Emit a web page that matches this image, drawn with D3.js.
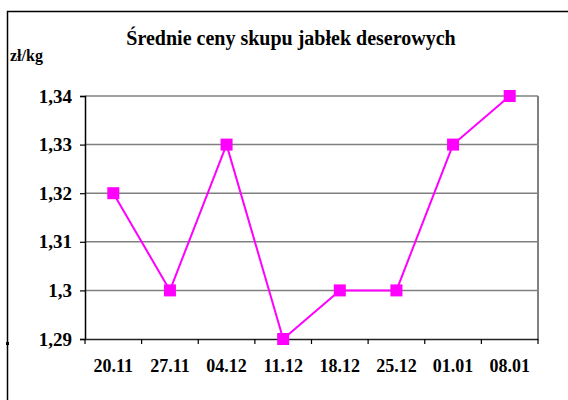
<!DOCTYPE html>
<html>
<head>
<meta charset="utf-8">
<script src="https://cdn.jsdelivr.net/npm/d3@7"></script>
<style>
  body { margin: 0; background: #fff; }
  text { font-family: "Liberation Serif", "Times New Roman", serif; font-weight: bold; fill: #000; }
</style>
</head>
<body>
<div id="chart"></div>
<script>
// data
const dates = ["20.11", "27.11", "04.12", "11.12", "18.12", "25.12", "01.01", "08.01"];
const prices = [1.32, 1.30, 1.33, 1.29, 1.30, 1.30, 1.33, 1.34];
const yTicks = [1.29, 1.30, 1.31, 1.32, 1.33, 1.34];

const width = 568;
const height = 400;
const plot = { left: 85, right: 538, top: 96, bottom: 339 };

const svg = d3.select("#chart")
  .append("svg")
  .attr("width", width)
  .attr("height", height);

// outer frame (runs off the right/bottom edge)
svg.append("rect")
  .attr("x", 7.5)
  .attr("y", 11.5)
  .attr("width", 600)
  .attr("height", 450)
  .attr("fill", "none")
  .attr("stroke", "#000")
  .attr("stroke-width", 1.5);

// little notch on the frame near the x axis
svg.append("rect")
  .attr("x", 6)
  .attr("y", 342)
  .attr("width", 3)
  .attr("height", 3)
  .attr("fill", "#000");

svg.append("text")
  .attr("x", 291)
  .attr("y", 45)
  .attr("text-anchor", "middle")
  .attr("font-size", "20px")
  .text("Średnie ceny skupu jabłek deserowych");

svg.append("text")
  .attr("x", 10)
  .attr("y", 61)
  .attr("font-size", "16px")
  .text("zł/kg");

// scales
const x = d3.scaleBand()
  .domain(dates)
  .range([plot.left, plot.right]);

const y = d3.scaleLinear()
  .domain([1.29, 1.34])
  .range([plot.bottom, plot.top]);

const fmt = d => d3.format(".2f")(d).replace(/0$/, "").replace(".", ",");

// gridlines
svg.append("g")
  .selectAll("line")
  .data(yTicks.slice(1))
  .enter()
  .append("line")
  .attr("x1", plot.left)
  .attr("x2", plot.right)
  .attr("y1", d => y(d))
  .attr("y2", d => y(d))
  .attr("stroke", "#808080")
  .attr("stroke-width", 1.5);

// right border of plot area
svg.append("line")
  .attr("x1", plot.right)
  .attr("x2", plot.right)
  .attr("y1", plot.top)
  .attr("y2", plot.bottom)
  .attr("stroke", "#808080")
  .attr("stroke-width", 2);

// y axis
const yAxis = svg.append("g")
  .attr("transform", `translate(${plot.left}, 0)`)
  .call(d3.axisLeft(y).tickValues(yTicks).tickFormat(fmt).tickSize(5).tickPadding(8));

yAxis.select(".domain").attr("stroke", "#000").attr("stroke-width", 1.5);
yAxis.selectAll(".tick line").attr("stroke", "#000").attr("stroke-width", 1.2);
yAxis.selectAll("text")
  .attr("font-size", "19px")
  .attr("font-family", "Liberation Serif, Times New Roman, serif")
  .attr("font-weight", "bold");

// x axis: ticks between categories
const xAxis = svg.append("g")
  .attr("transform", `translate(0, ${plot.bottom})`)
  .call(d3.axisBottom(x).tickSize(0).tickPadding(20));

xAxis.select(".domain").attr("stroke", "#222").attr("stroke-width", 1.5);
xAxis.selectAll("text")
  .attr("font-size", "18px")
  .attr("font-family", "Liberation Serif, Times New Roman, serif")
  .attr("font-weight", "bold");

xAxis.selectAll(".sep")
  .data(dates.concat(["end"]))
  .enter()
  .append("line")
  .attr("class", "sep")
  .attr("x1", (d, i) => plot.left + i * x.step())
  .attr("x2", (d, i) => plot.left + i * x.step())
  .attr("y1", 0)
  .attr("y2", 5)
  .attr("stroke", "#000")
  .attr("stroke-width", 1.2);

// series line
const line = d3.line()
  .x((d, i) => x(dates[i]) + x.bandwidth() / 2)
  .y(d => y(d));

svg.append("path")
  .datum(prices)
  .attr("d", line)
  .attr("fill", "none")
  .attr("stroke", "#ff00ff")
  .attr("stroke-width", 2);

// markers
const size = 12;
svg.selectAll(".marker")
  .data(prices)
  .enter()
  .append("rect")
  .attr("class", "marker")
  .attr("x", (d, i) => x(dates[i]) + x.bandwidth() / 2 - size / 2)
  .attr("y", d => y(d) - size / 2)
  .attr("width", size)
  .attr("height", size)
  .attr("fill", "#ff00ff");
</script>
</body>
</html>
